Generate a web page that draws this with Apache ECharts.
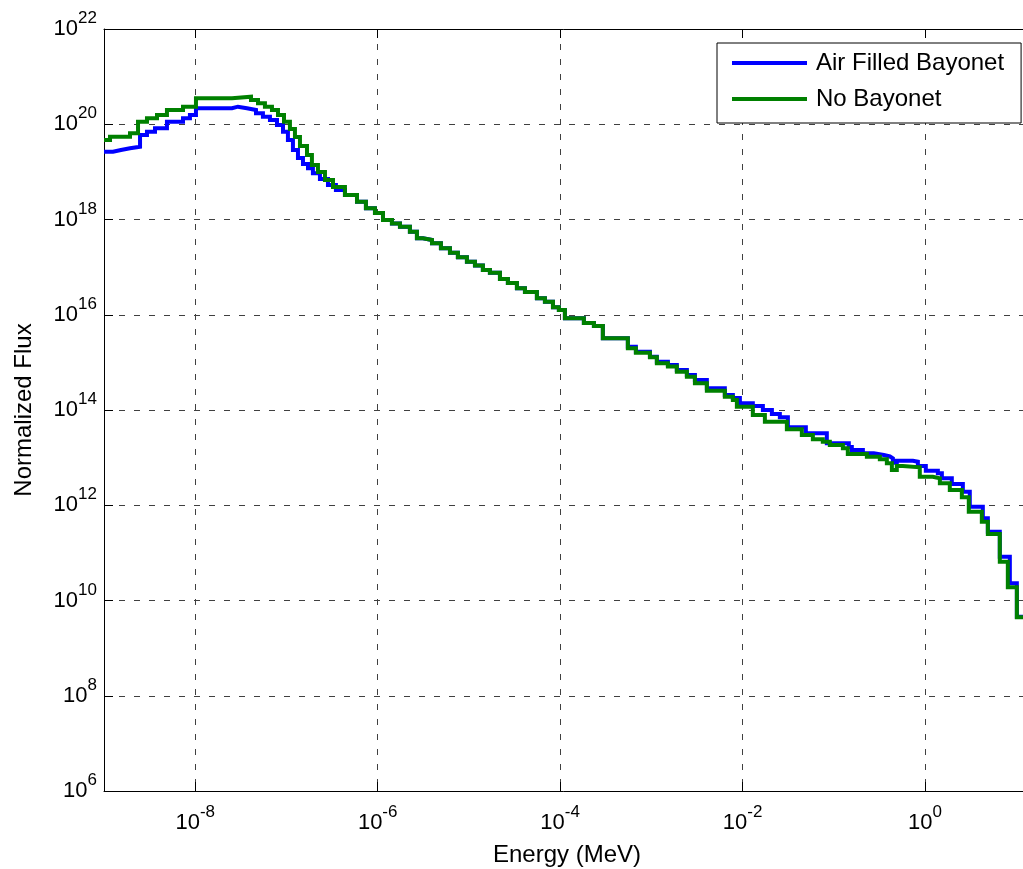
<!DOCTYPE html>
<html>
<head>
<meta charset="utf-8">
<title>Normalized Flux vs Energy</title>
<script src="https://cdn.jsdelivr.net/npm/echarts@6/dist/echarts.min.js"></script>
<style>
  html, body { margin: 0; padding: 0; background: #fff; }
  #chart { width: 1023px; height: 869px; }
</style>
</head>
<body>
<div id="chart"></div>
<script>
  // values are log10: energy in MeV (start of each step), flux for that step
  var airEnergyLog = [-9.000, -8.901, -8.814, -8.715, -8.605, -8.529, -8.441, -8.310, -8.134, -8.058,
    -7.992, -7.597, -7.532, -7.433, -7.334, -7.258, -7.181, -7.104, -7.038, -6.984,
    -6.929, -6.874, -6.819, -6.764, -6.710, -6.633, -6.545, -6.458, -6.359, -6.227,
    -6.129, -6.030, -5.942, -5.844, -5.756, -5.647, -5.570, -5.504, -5.405, -5.307,
    -5.208, -5.121, -5.022, -4.934, -4.847, -4.770, -4.660, -4.573, -4.474, -4.386,
    -4.255, -4.167, -4.079, -4.014, -3.948, -3.740, -3.630, -3.532, -3.258, -3.170,
    -3.016, -2.940, -2.819, -2.721, -2.611, -2.523, -2.392, -2.195, -2.107, -2.030,
    -1.888, -1.778, -1.679, -1.592, -1.504, -1.307, -1.077, -0.836, -0.803, -0.682,
    -0.562, -0.452, -0.386, -0.353, -0.310, -0.134, -0.079, 0.008, 0.140, 0.184,
    0.293, 0.414, 0.490, 0.633, 0.688, 0.819, 0.929, 1.006];
  var airFluxLog = [19.424, 19.460, 19.495, 19.529, 19.774, 19.844, 19.915, 20.054, 20.125, 20.194,
    20.335, 20.369, 20.335, 20.299, 20.230, 20.159, 20.089, 19.984, 19.844, 19.670,
    19.460, 19.292, 19.166, 19.075, 18.970, 18.851, 18.725, 18.620, 18.515, 18.374,
    18.236, 18.137, 17.990, 17.916, 17.849, 17.744, 17.606, 17.570, 17.501, 17.396,
    17.303, 17.207, 17.114, 17.035, 16.940, 16.883, 16.751, 16.667, 16.556, 16.478,
    16.346, 16.275, 16.157, 16.100, 15.926, 15.827, 15.764, 15.506, 15.330, 15.225,
    15.120, 15.015, 14.946, 14.841, 14.736, 14.631, 14.456, 14.316, 14.253, 14.141,
    14.085, 14.001, 13.917, 13.847, 13.638, 13.512, 13.302, 13.224, 13.161, 13.092,
    13.056, 13.024, 12.983, 12.894, 12.936, 12.915, 12.825, 12.726, 12.672, 12.567,
    12.447, 12.286, 11.971, 11.727, 11.446, 10.921, 10.362, 9.661];

  var noneEnergyLog = [-9.000, -8.934, -8.715, -8.627, -8.529, -8.419, -8.310, -8.134, -7.992, -7.597,
    -7.389, -7.312, -7.236, -7.159, -7.093, -7.027, -6.962, -6.907, -6.852, -6.775,
    -6.721, -6.655, -6.578, -6.490, -6.359, -6.227, -6.129, -6.030, -5.942, -5.844,
    -5.756, -5.647, -5.570, -5.504, -5.405, -5.307, -5.208, -5.121, -5.022, -4.934,
    -4.847, -4.770, -4.660, -4.573, -4.474, -4.386, -4.255, -4.167, -4.079, -4.014,
    -3.948, -3.740, -3.630, -3.532, -3.258, -3.170, -3.016, -2.940, -2.819, -2.721,
    -2.611, -2.523, -2.392, -2.195, -2.107, -2.063, -1.888, -1.756, -1.515, -1.351,
    -1.230, -1.121, -1.044, -0.901, -0.847, -0.638, -0.496, -0.419, -0.364, -0.310,
    -0.244, -0.058, 0.085, 0.162, 0.271, 0.403, 0.479, 0.622, 0.688, 0.819,
    0.907, 1.006];
  var noneFluxLog = [19.670, 19.739, 19.810, 20.054, 20.125, 20.194, 20.299, 20.369, 20.545, 20.579,
    20.509, 20.440, 20.369, 20.299, 20.194, 20.054, 19.900, 19.733, 19.544, 19.355,
    19.145, 18.998, 18.830, 18.683, 18.515, 18.374, 18.236, 18.137, 17.990, 17.916,
    17.849, 17.744, 17.606, 17.570, 17.501, 17.396, 17.303, 17.207, 17.114, 17.035,
    16.940, 16.883, 16.751, 16.667, 16.556, 16.478, 16.346, 16.275, 16.157, 16.100,
    15.926, 15.827, 15.764, 15.506, 15.296, 15.204, 15.107, 14.981, 14.914, 14.805,
    14.700, 14.561, 14.406, 14.280, 14.211, 14.070, 13.896, 13.755, 13.596, 13.476,
    13.386, 13.335, 13.266, 13.197, 13.077, 13.020, 12.966, 12.882, 12.741, 12.825,
    12.798, 12.600, 12.567, 12.462, 12.321, 12.168, 11.866, 11.656, 11.397, 10.816,
    10.278, 9.648];

  var xTickExps = [-8, -6, -4, -2, 0];
  var xMinExp = -9, xMaxExp = 1.15;
  var yMinExp = 6, yMaxExp = 22, yStepExp = 2;

  var font = 'Liberation Sans, Arial, Helvetica, sans-serif';

  function stepData(xs, ys) {
    var d = xs.map(function (x, i) { return [x, ys[i]]; });
    d.push([xMaxExp, ys[ys.length - 1]]);  // hold last level to the right edge
    return d;
  }

  function powLabel(v) {
    return '{b|10}{s|' + Math.round(v) + '}';
  }

  // superscript: padded box makes the line 38px tall, exponent sits at its top
  var supRich = {
    b: { fontSize: 22, lineHeight: 22, color: '#000', fontFamily: font },
    s: { fontSize: 17, padding: [0, 0, 21, 0], verticalAlign: 'top', color: '#000', fontFamily: font }
  };

  var gridLine = { color: '#404040', width: 1, type: [6, 9] };
  var blackLine = { color: '#000', width: 1 };

  var chart = echarts.init(document.getElementById('chart'));
  var option = {
    backgroundColor: '#fff',
    animation: false,
    grid: { left: 104, top: 29, right: -7, bottom: 78, outerBoundsMode: 'none', containLabel: false },
    legend: {
      data: ['Air Filled Bayonet', 'No Bayonet'],
      orient: 'vertical',
      left: 717,
      top: 43,
      padding: [8, 17, 12, 15],
      itemGap: 12,
      itemWidth: 75,
      itemHeight: 4,
      icon: 'rect',
      backgroundColor: '#fff',
      borderColor: '#000',
      borderWidth: 1,
      borderRadius: 0,
      textStyle: { fontSize: 24, color: '#000', fontFamily: font, padding: [0, 0, 0, 4] }
    },
    xAxis: [{
      type: 'value',
      min: xMinExp,
      max: xMaxExp,
      position: 'bottom',
      name: 'Energy (MeV)',
      nameLocation: 'middle',
      nameGap: 52,
      nameMoveOverlap: false,
      nameTextStyle: { fontSize: 24, color: '#000', fontFamily: font },
      axisLine: { show: true, onZero: false, lineStyle: blackLine },
      axisTick: { show: true, inside: true, length: 9, customValues: xTickExps, lineStyle: blackLine },
      axisLabel: { customValues: xTickExps, formatter: powLabel, rich: supRich, margin: 13 },
      splitLine: { show: true, lineStyle: gridLine }
    }, {
      type: 'value',
      min: xMinExp,
      max: xMaxExp,
      position: 'top',
      axisLine: { show: true, onZero: false, lineStyle: blackLine },
      axisTick: { show: true, inside: true, length: 9, customValues: xTickExps, lineStyle: blackLine },
      axisLabel: { show: false },
      splitLine: { show: false }
    }],
    yAxis: {
      type: 'value',
      min: yMinExp,
      max: yMaxExp,
      interval: yStepExp,
      name: 'Normalized Flux',
      nameLocation: 'middle',
      nameGap: 68,
      nameRotate: 90,
      nameMoveOverlap: false,
      nameTextStyle: { fontSize: 24, color: '#000', fontFamily: font },
      axisLine: { show: true, onZero: false, lineStyle: blackLine },
      axisTick: { show: true, inside: true, length: 9, lineStyle: blackLine },
      axisLabel: { formatter: powLabel, rich: supRich, margin: 7 },
      splitLine: { show: true, showMinLine: false, showMaxLine: false, lineStyle: gridLine }
    },
    series: [{
      name: 'Air Filled Bayonet',
      type: 'line',
      step: 'end',
      symbol: 'none',
      data: stepData(airEnergyLog, airFluxLog),
      itemStyle: { color: '#0000ff' },
      lineStyle: { color: '#0000ff', width: 4, join: 'miter' },
      z: 3
    }, {
      name: 'No Bayonet',
      type: 'line',
      step: 'end',
      symbol: 'none',
      data: stepData(noneEnergyLog, noneFluxLog),
      itemStyle: { color: '#008000' },
      lineStyle: { color: '#008000', width: 4, join: 'miter' },
      z: 4
    }]
  };
  chart.setOption(option);
</script>
</body>
</html>
